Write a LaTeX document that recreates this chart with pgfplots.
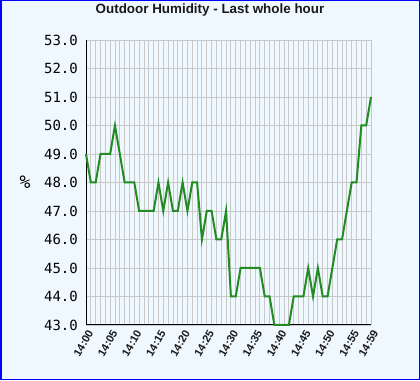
\documentclass[border=0pt]{standalone}
\usepackage{pgfplots}
\pgfplotsset{compat=1.18}
\usepackage{fontspec}
\setmainfont{Liberation Sans}
\newfontfamily\monofont{DejaVu Sans Mono}
\definecolor{bgblue}{HTML}{F0F8FF}
\definecolor{linegreen}{HTML}{228B22}
\definecolor{gridgray}{HTML}{C8C8C8}
\begin{document}
\begin{tikzpicture}
\fill[bgblue] (0,0) rectangle (420pt,380pt);
\draw[blue, line width=1.5pt] (0.75pt,0.75pt) rectangle (419.25pt,379.25pt);
\node[anchor=base, font=\bfseries\fontsize{13.4}{15}\selectfont, text=black!90] at (210pt,366pt) {Outdoor Humidity - Last whole hour};
\begin{axis}[
  at={(86pt,55pt)}, anchor=south west,
  scale only axis, width=285pt, height=285pt,
  xmin=0, xmax=59, ymin=43, ymax=53,
  axis x line*=bottom, axis y line*=left,
  axis line style={black, line width=1pt, -},
  xtick={0,5,10,15,20,25,30,35,40,45,50,55,59},
  xticklabels={14:00,14:05,14:10,14:15,14:20,14:25,14:30,14:35,14:40,14:45,14:50,14:55,14:59},
  minor xtick={1,2,...,58},
  ytick={43,44,...,53},
  major tick length=0pt, minor tick length=0pt,
  xmajorgrids, xminorgrids, ymajorgrids,
  grid style={gridgray, line width=0.9pt},
  minor grid style={gridgray, line width=0.9pt},
  xticklabel style={rotate=60, anchor=east, font=\bfseries\fontsize{11}{12}\selectfont, text=black!90, inner sep=1pt, yshift=-7pt, xshift=-2pt},
  yticklabel style={font=\monofont\fontsize{14}{15}\selectfont, inner sep=0pt, xshift=-8pt},
  yticklabel={\pgfmathprintnumber[fixed,fixed zerofill,precision=1]{\tick}},
  /pgf/number format/assume math mode=true,
  ylabel={\monofont\fontsize{18}{19}\selectfont\%},
  every axis y label/.style={at={(axis description cs:0,0.5)}, anchor=center, rotate=0, xshift=-61pt},
  clip=false,
]
\addplot[linegreen, line width=2pt, sharp plot] coordinates {
(0,49)(1,48)(2,48)(3,49)(4,49)(5,49)(6,50)(7,49)(8,48)(9,48)
(10,48)(11,47)(12,47)(13,47)(14,47)(15,48)(16,47)(17,48)(18,47)(19,47)
(20,48)(21,47)(22,48)(23,48)(24,46)(25,47)(26,47)(27,46)(28,46)(29,47)
(30,44)(31,44)(32,45)(33,45)(34,45)(35,45)(36,45)(37,44)(38,44)(39,43)
(40,43)(41,43)(42,43)(43,44)(44,44)(45,44)(46,45)(47,44)(48,45)(49,44)
(50,44)(51,45)(52,46)(53,46)(54,47)(55,48)(56,48)(57,50)(58,50)(59,51)
};
\end{axis}
\pgfresetboundingbox
\useasboundingbox (0,0) rectangle (420pt,380pt);
\end{tikzpicture}
\end{document}
